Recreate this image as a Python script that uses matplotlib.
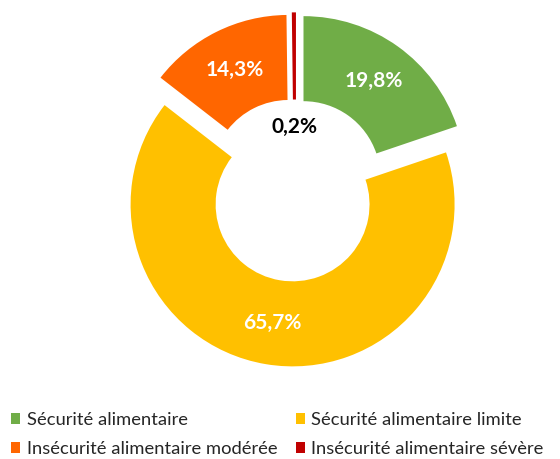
import matplotlib.pyplot as plt
import numpy as np
from matplotlib.patches import Patch

plt.rcParams['font.family'] = ['Lato', 'DejaVu Sans']

categories = ['Sécurité alimentaire', 'Sécurité alimentaire limite',
              'Insécurité alimentaire modérée', 'Insécurité alimentaire sévère']
values = [19.8, 65.7, 14.3, 0.2]
labels = ['19,8%', '65,7%', '14,3%', '0,2%']
colors = ['#70AD47', '#FFC000', '#FF6600', '#C00000']

W, H = 560, 459
cx, cy, R = 295, 190, 162  # pie centre and radius in pixels

fig = plt.figure(figsize=(W / 100, H / 100), dpi=100)
ax = fig.add_axes([0, 0, 1, 1])

wedges, _ = ax.pie(values, colors=colors, startangle=90, counterclock=False,
                   explode=[0.09] * 4, radius=1,
                   wedgeprops=dict(width=0.525, edgecolor='none'))
ax.set_xlim(-cx / R, (W - cx) / R)
ax.set_ylim(-(H - cy) / R, cy / R)
ax.axis('off')

for w, lab, v in zip(wedges, labels, values):
    mid = np.deg2rad((w.theta1 + w.theta2) / 2)
    x0, y0 = w.center
    if v < 1:
        # thin slice: give it a visible edge, label sits in the hole
        w.set_edgecolor(w.get_facecolor())
        w.set_linewidth(1.5)
        r, col = 0.30, 'black'
    else:
        r, col = 0.74, 'white'
    ax.text(x0 + r * np.cos(mid), y0 + r * np.sin(mid), lab, color=col,
            fontsize=15, fontweight='bold', ha='center', va='center')

order = [0, 2, 1, 3]
handles = [Patch(facecolor=colors[i], edgecolor='none') for i in order]
fig.legend(handles, [categories[i] for i in order], ncol=2, frameon=False,
           loc='upper left', bbox_to_anchor=(11 / W, 1 - 412 / H),
           fontsize=13.2, labelcolor='#262626', handlelength=0.5, handleheight=0.5,
           handletextpad=0.35, columnspacing=1.0, labelspacing=0.72,
           borderpad=0, borderaxespad=0)

fig.savefig('out.png', dpi=100)
